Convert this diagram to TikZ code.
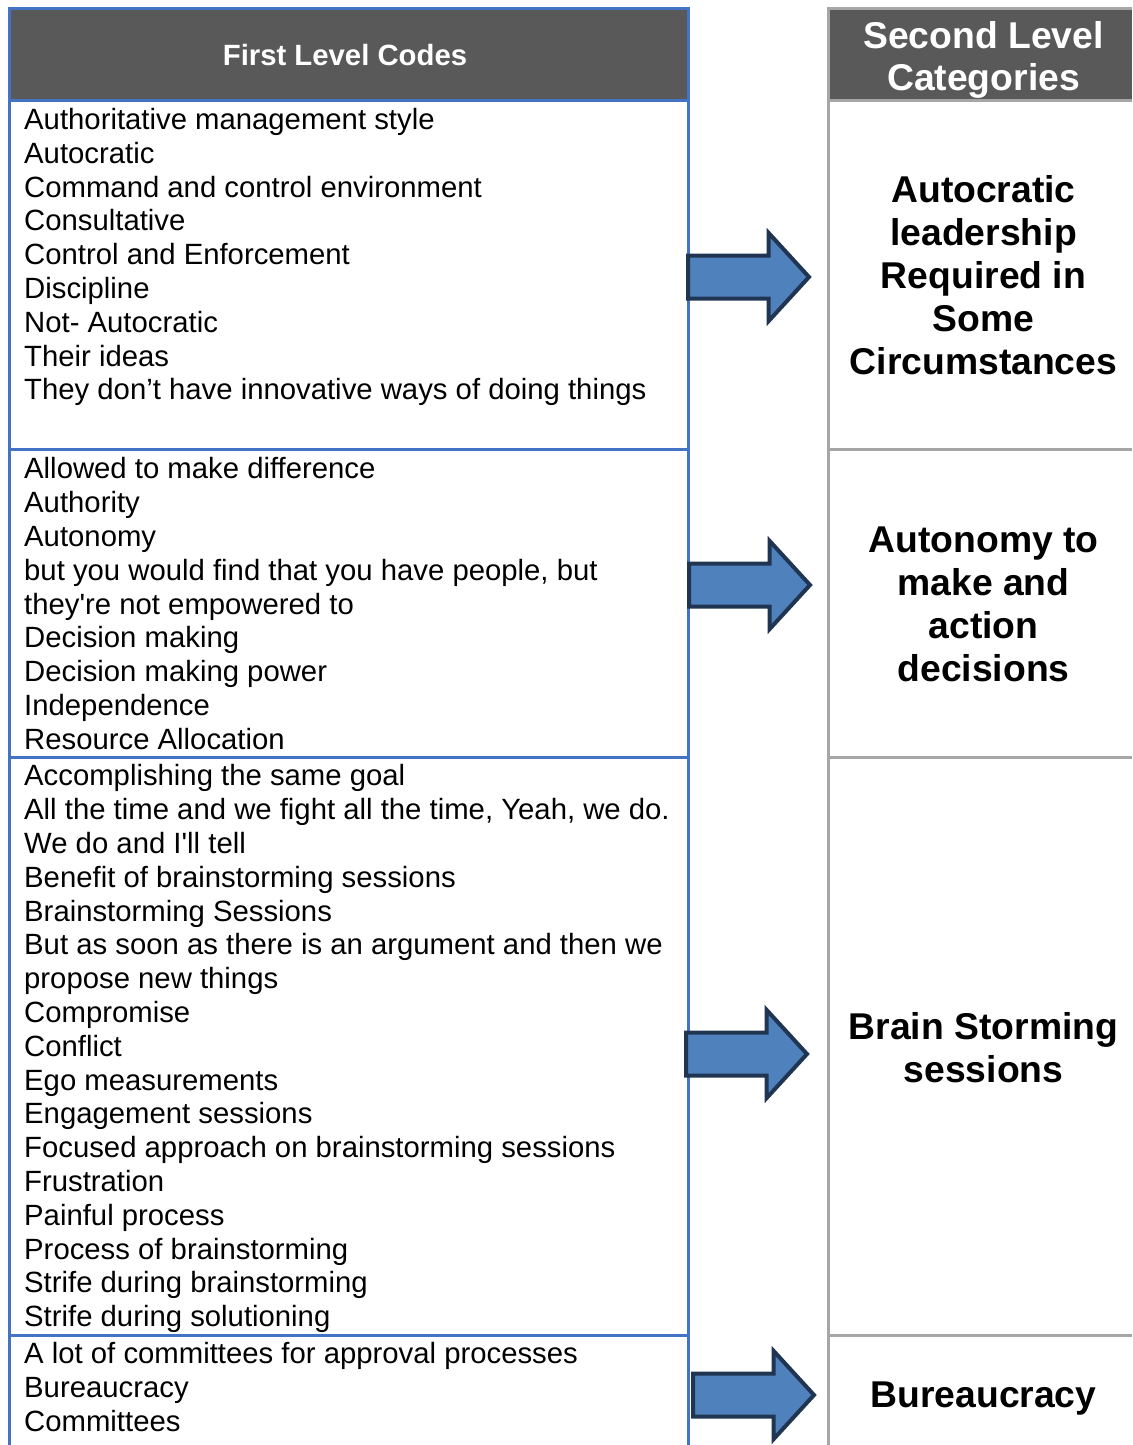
\documentclass[tikz,border=0pt]{standalone}
\usepackage{fontspec}
\setmainfont{Liberation Sans}
\usepackage{tikz}
\usetikzlibrary{shapes.arrows}
\definecolor{hdrgray}{HTML}{595959}
\definecolor{tblblue}{HTML}{4472C4}
\definecolor{tblgray}{HTML}{A6A6A6}
\definecolor{arrfill}{HTML}{4F81BD}
\definecolor{arrline}{HTML}{1F3552}

\begin{document}
\begin{tikzpicture}[x=1pt, y=-1pt,
    blueline/.style={draw=tblblue, line width=3pt},
    grayline/.style={draw=tblgray, line width=3pt},
    codetext/.style={anchor=north west, inner sep=0pt, align=left, font=\fontsize{29.3}{33.8}\selectfont},
    cattext/.style={inner sep=0pt, align=center, font=\fontsize{37.3}{43}\selectfont\bfseries},
    headtext/.style={inner sep=0pt, align=center, text=white},
    blockarrow/.style={single arrow, draw=arrline, fill=arrfill, line width=4pt,
        minimum height=121pt, single arrow head extend=22.5pt, single arrow tip angle=95,
        inner xsep=0pt, inner ysep=19.5pt, outer sep=0pt, anchor=tip}
    ]
        \useasboundingbox (0,0) rectangle (1132,1445);

        %Headers
        \fill[hdrgray] (9,9) rectangle (688.5,100);
        \fill[hdrgray] (828.5,9) rectangle (1132,100);

        %Table lines
        \draw[blueline] (9,1445) -- (9,9) -- (688.5,9) -- (688.5,1445);
        \foreach \y in {100,449,757,1335}
            \draw[blueline] (9,\y) -- (688.5,\y);
        \draw[grayline] (828.5,1445) -- (828.5,9) -- (1132,9);
        \foreach \y in {100,449,757,1335}
            \draw[grayline] (828.5,\y) -- (1132,\y);

        %Nodes
        \node[headtext, font=\fontsize{29.3}{33.8}\selectfont\bfseries]
            (hfirst) at (345,55) {First Level Codes};
        \node[headtext, font=\fontsize{37.3}{42}\selectfont\bfseries]
            (hsecond) at (983.5,60) {Second Level\\Categories};

        \node[codetext] (c1) at (24,108) {Authoritative management style\\
            Autocratic\\
            Command and control environment\\
            Consultative\\
            Control and Enforcement\\
            Discipline\\
            Not- Autocratic\\
            Their ideas\\
            They don’t have innovative ways of doing things};
        \node[codetext] (c2) at (24,457.5) {Allowed to make difference\\
            Authority\\
            Autonomy\\
            but you would find that you have people, but\\
            they\textquotesingle re not empowered to\\
            Decision making\\
            Decision making power\\
            Independence\\
            Resource Allocation};
        \node[codetext] (c3) at (24,764.5) {Accomplishing the same goal\\
            All the time and we fight all the time, Yeah, we do.\\
            We do and I\textquotesingle ll tell\\
            Benefit of brainstorming sessions\\
            Brainstorming Sessions\\
            But as soon as there is an argument and then we\\
            propose new things\\
            Compromise\\
            Conflict\\
            Ego measurements\\
            Engagement sessions\\
            Focused approach on brainstorming sessions\\
            Frustration\\
            Painful process\\
            Process of brainstorming\\
            Strife during brainstorming\\
            Strife during solutioning};
        \node[codetext] (c4) at (24,1342.5) {A lot of committees for approval processes\\
            Bureaucracy\\
            Committees};

        \node[cattext] (k1) at (983.5,275) {Autocratic\\leadership\\Required in\\Some\\Circumstances};
        \node[cattext] (k2) at (983.5,604.5) {Autonomy to\\make and\\action\\decisions};
        \node[cattext] (k3) at (983.5,1047.5) {Brain Storming\\sessions};
        \node[cattext] (k4) at (983.5,1399) {Bureaucracy};

        %Arrows
        \node[blockarrow] (a1) at (809,277) {};
        \node[blockarrow] (a2) at (810,585) {};
        \node[blockarrow] (a3) at (807,1054) {};
        \node[blockarrow] (a4) at (814,1395) {};
    \end{tikzpicture}
\end{document}
